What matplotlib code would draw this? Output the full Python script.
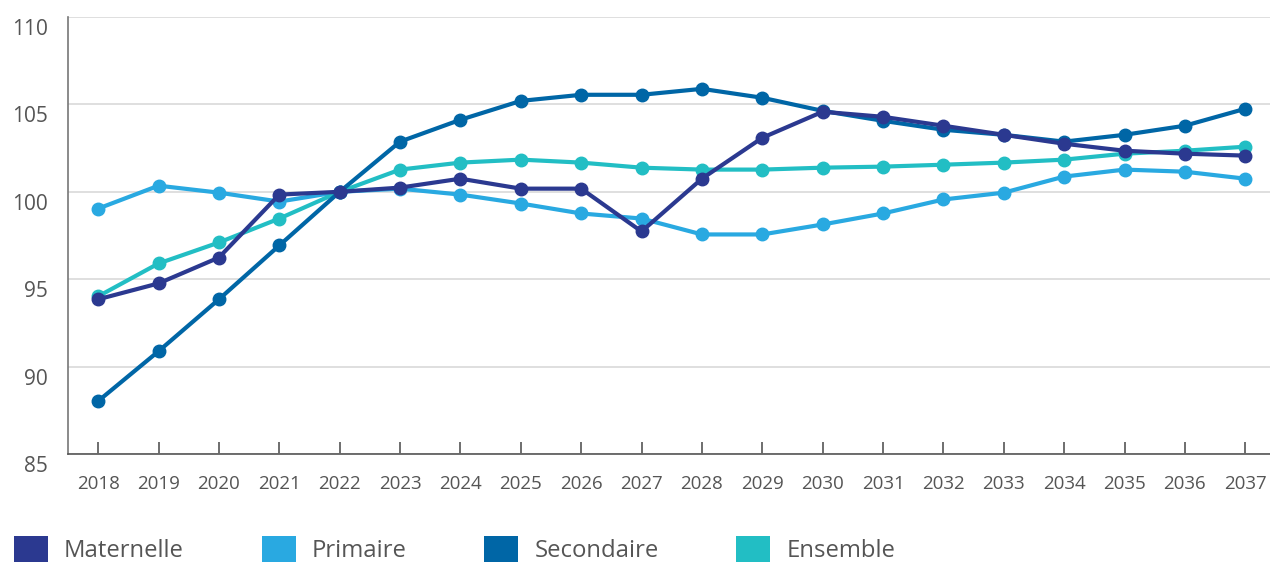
import matplotlib.pyplot as plt
import matplotlib.transforms as mtransforms
from matplotlib.patches import Patch

years = list(range(2018, 2038))

maternelle = [93.85, 94.76, 96.24, 99.84, 100.0, 100.24, 100.75, 100.18, 100.18, 97.73,
              100.75, 103.09, 104.58, 104.29, 103.78, 103.26, 102.75, 102.35, 102.18, 102.07]
primaire = [99.04, 100.35, 99.95, 99.44, 100.0, 100.18, 99.84, 99.33, 98.76, 98.47,
            97.56, 97.56, 98.13, 98.76, 99.56, 99.95, 100.87, 101.27, 101.15, 100.75]
secondaire = [88.03, 90.88, 93.85, 96.93, 100.0, 102.87, 104.12, 105.2, 105.55, 105.55,
              105.89, 105.38, 104.63, 104.06, 103.55, 103.26, 102.87, 103.26, 103.78, 104.75]
ensemble = [94.02, 95.9, 97.1, 98.47, 100.0, 101.27, 101.67, 101.84, 101.67, 101.38,
            101.27, 101.27, 101.38, 101.44, 101.55, 101.67, 101.84, 102.18, 102.35, 102.58]

labels = ["Maternelle", "Primaire", "Secondaire", "Ensemble"]
colors = ["#2b3990", "#29a9e1", "#0066a6", "#22bec4"]
yticks = [85, 90, 95, 100, 105, 110]

plt.rcParams['font.family'] = ['Open Sans', 'DejaVu Sans']

fig = plt.figure(figsize=(12.7, 5.63), dpi=100)
ax = fig.add_axes([68/1270, 1 - 454/563, (1270-68)/1270, (454-17)/563])

# draw order: primaire, ensemble, secondaire, maternelle on top
series = dict(zip(labels, [maternelle, primaire, secondaire, ensemble]))
cmap = dict(zip(labels, colors))
for name in ["Primaire", "Ensemble", "Secondaire", "Maternelle"]:
    ax.plot(years, series[name], color=cmap[name], lw=3, marker="o", ms=9,
            solid_capstyle="round", zorder=3)

ax.set_xlim(2017.5, 2037.41)
ax.set_ylim(85, 110)
ax.set_yticks(yticks)
ax.set_xticks(years)
ax.set_xticklabels([str(y) for y in years])
ax.grid(axis="y", color="#d9d9d9", lw=1.2, zorder=0)
ax.set_axisbelow(True)

for s in ["top", "right"]:
    ax.spines[s].set_visible(False)
ax.spines["left"].set_color("#777777")
ax.spines["bottom"].set_color("#555555")
ax.spines["left"].set_linewidth(1.2)
ax.spines["bottom"].set_linewidth(1.2)

ax.tick_params(axis="y", length=0, pad=14.4, labelsize=15, labelcolor="#555555")
ax.tick_params(axis="x", direction="in", length=9, width=1.2, color="#555555",
               pad=15, labelsize=13.5, labelcolor="#555555")
off = mtransforms.ScaledTranslation(0, -10/100, fig.dpi_scale_trans)
for lab in ax.get_yticklabels():
    lab.set_transform(lab.get_transform() + off)

handles = [Patch(facecolor=c, edgecolor="none") for c in colors]
fig.legend(handles, labels, loc="lower left", bbox_to_anchor=(14/1270, 0.0), ncol=4,
           frameon=False, fontsize=17.2, labelcolor="#555555",
           borderpad=0, borderaxespad=0,
           handlelength=1.42, handleheight=1.3, handletextpad=0.67, columnspacing=3.26)

fig.savefig("out.png", dpi=100)
